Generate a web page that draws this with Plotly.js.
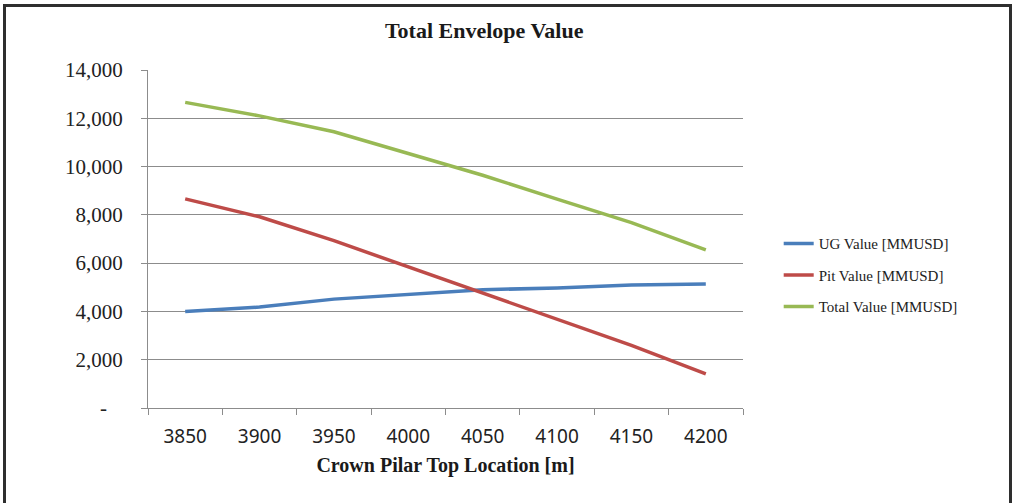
<!DOCTYPE html>
<html>
<head>
<meta charset="utf-8">
<script src="https://cdn.plot.ly/plotly-3.0.1.min.js"></script>
<style>
  html, body { margin: 0; padding: 0; background: #ffffff; overflow: hidden; }
  #chart { width: 1013px; height: 503px; }
  #frame {
    position: absolute; left: 3px; top: 4px;
    width: 1003px; height: 600px;
    border: 3px solid #2e2e2e; pointer-events: none;
  }
</style>
</head>
<body>
<div id="chart"></div>
<div id="frame"></div>
<script>
// Crown pillar top elevation (m)
const locations = ['3850', '3900', '3950', '4000', '4050', '4100', '4150', '4200'];

// Envelope values, MMUSD
const ugValue    = [4000, 4180, 4510, 4690, 4900, 4970, 5090, 5140];
const pitValue   = [8660, 7920, 6930, 5850, 4740, 3680, 2590, 1410];
const totalValue = [12660, 12100, 11440, 10540, 9640, 8650, 7680, 6550];

// Value axis ticks
const yTickVals = [0, 2000, 4000, 6000, 8000, 10000, 12000, 14000];
const yTickText = ['-\u00a0\u00a0\u00a0', '2,000', '4,000', '6,000', '8,000', '10,000', '12,000', '14,000'];

const seriesNames = ['UG Value [MMUSD]', 'Pit Value [MMUSD]', 'Total Value [MMUSD]'];
const seriesColors = ['#4a7ebb', '#be4b48', '#98b954'];
const seriesValues = [ugValue, pitValue, totalValue];

const traces = seriesValues.map((vals, i) => ({
  type: 'scatter',
  mode: 'lines',
  x: locations,
  y: vals,
  name: seriesNames[i],
  legendgroup: 'g' + i,
  line: { color: seriesColors[i], width: 3.5 },
  hoverinfo: 'x+y+name'
}));

const axisGray = '#8c8c8c';

const layout = {
  width: 1013,
  height: 503,
  paper_bgcolor: '#ffffff',
  plot_bgcolor: '#ffffff',
  margin: { l: 148, r: 270, t: 70, b: 95, autoexpand: false },
  title: {
    text: '<b>Total Envelope Value</b>',
    font: { family: 'Liberation Serif, serif', size: 22, color: '#1a1a1a' },
    x: 0.478, xref: 'container', xanchor: 'center',
    y: 0.94, yref: 'container', yanchor: 'middle'
  },
  xaxis: {
    type: 'category',
    range: [-0.5, 7.5],
    tickson: 'boundaries',
    ticks: 'outside',
    ticklen: 6,
    tickcolor: axisGray,
    showline: true,
    linecolor: axisGray,
    linewidth: 1,
    showgrid: false,
    zeroline: false,
    tickfont: { family: 'Noto Sans, sans-serif', size: 19, color: '#222222' },
    ticklabelstandoff: 11,
    title: {
      text: '<b>Crown Pilar Top Location [m]</b>',
      font: { family: 'Liberation Serif, serif', size: 20, color: '#1a1a1a' },
      standoff: 10
    }
  },
  yaxis: {
    range: [0, 14000],
    tickmode: 'array',
    tickvals: yTickVals,
    ticktext: yTickText,
    ticks: 'outside',
    ticklen: 6,
    tickcolor: axisGray,
    showline: true,
    linecolor: axisGray,
    linewidth: 1,
    showgrid: true,
    gridcolor: axisGray,
    gridwidth: 1,
    zeroline: false,
    tickfont: { family: 'Liberation Serif, serif', size: 21, color: '#222222' },
    ticklabelstandoff: 14
  },
  showlegend: true,
  legend: {
    x: 1.06, xref: 'paper', xanchor: 'left',
    y: 0.393, yanchor: 'middle',
    font: { family: 'Liberation Serif, serif', size: 15, color: '#222222' },
    traceorder: 'grouped',
    tracegroupgap: 9,
    bgcolor: 'rgba(0,0,0,0)'
  }
};

Plotly.newPlot('chart', traces, layout, { displayModeBar: false, staticPlot: true });
</script>
</body>
</html>
